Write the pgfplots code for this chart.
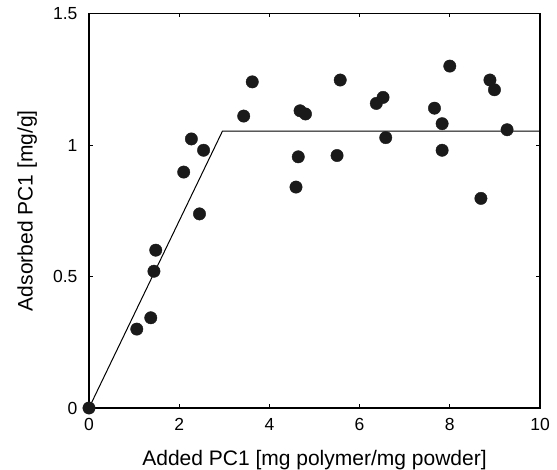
\documentclass[border=0pt]{standalone}
\usepackage{fontspec}
\setmainfont{Liberation Sans}
\usepackage{pgfplots}
\pgfplotsset{compat=1.18}

\definecolor{dotcol}{HTML}{1A1A1A}

\begin{document}
\begin{tikzpicture}
    \begin{axis}[
            scale only axis,
            width=451pt, height=394.5pt,
            xmin=0, xmax=10,
            ymin=0, ymax=1.5,
            xtick={0,2,4,6,8,10},
            ytick={0,0.5,1,1.5},
            yticklabels={0,0.5,1,1.5},
            axis line style={line width=1.1pt},
            major tick style={line width=0.8pt, black},
            major tick length=4pt,
            tick align=inside,
            clip=false,
            /pgf/number format/assume math mode=true,
            tick label style={font=\fontsize{17.5}{20}\selectfont},
            xticklabel style={anchor=base, yshift=-23pt},
            yticklabel style={xshift=-8pt},
            label style={font=\fontsize{21}{25}\selectfont},
            xlabel={Added PC1 [mg polymer/mg powder]},
            xlabel style={at={(axis description cs:0.5,-0.147)}, anchor=base},
            ylabel={Adsorbed PC1 [mg/g]},
            ylabel style={at={(axis description cs:-0.137,0.5)}, anchor=center, rotate=0},
        ]
        % fitted model: linear rise, then plateau
        \addplot[black, line width=1pt] coordinates {(0,0) (2.96,1.053) (10,1.053)};
        % measured points
        \addplot[only marks, mark=*, mark size=6.2pt, dotcol, mark options={draw=dotcol, fill=dotcol}]
        coordinates {
            (0,0) (1.06,0.30) (1.37,0.343) (1.44,0.52) (1.48,0.60)
            (2.10,0.897) (2.27,1.023) (2.45,0.738) (2.54,0.98)
            (3.43,1.11) (3.62,1.24)
            (4.59,0.84) (4.64,0.955) (4.68,1.13) (4.80,1.118)
            (5.50,0.96) (5.57,1.247)
            (6.37,1.158) (6.52,1.181) (6.58,1.028)
            (7.66,1.14) (7.83,1.081) (7.83,0.98) (8.00,1.30)
            (8.69,0.797) (8.89,1.247) (8.99,1.21) (9.27,1.058)
        };
    \end{axis}
    \pgfresetboundingbox
    \path ([shift={(-89pt,-62pt)}]current axis.south west) rectangle ([shift={(17pt,13.5pt)}]current axis.north east);
\end{tikzpicture}
\end{document}
